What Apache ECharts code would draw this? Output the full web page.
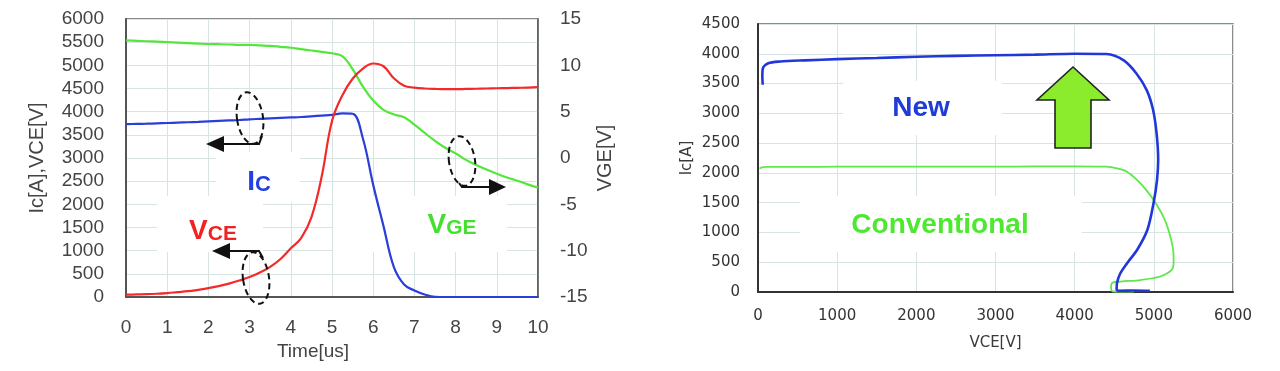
<!DOCTYPE html>
<html>
<head>
<meta charset="utf-8">
<script src="https://cdn.jsdelivr.net/npm/echarts@6/dist/echarts.min.js"></script>
<style>
html,body{margin:0;padding:0;background:#fff;}
#c{width:1280px;height:371px;}
</style>
</head>
<body>
<div id="c"></div>
<script>
// ---------- Left chart data (turn-off waveforms) ----------
const timeUs = [0,0.25,0.5,0.75,1,1.25,1.5,1.75,2,2.25,2.5,2.75,3,3.25,3.5,3.75,4,4.25,4.5,4.75,5,5.25,5.5,5.75,6,6.25,6.5,6.75,7,7.25,7.5,7.75,8,8.25,8.5,8.75,9,9.25,9.5,9.75,10];
const icA = [3730,3735,3740,3748,3755,3765,3772,3780,3790,3800,3810,3820,3835,3845,3855,3865,3875,3885,3900,3915,3930,3962,3955,3420,2420,1530,650,270,140,55,5,0,0,0,0,0,0,0,0,0,0];
const vceV = [50,55,60,70,85,105,125,155,190,235,290,355,430,530,650,820,1050,1270,1720,2600,3800,4350,4710,4930,5040,4980,4720,4560,4520,4500,4490,4485,4485,4490,4495,4500,4505,4510,4515,4520,4530];
const vgeV = [12.7,12.65,12.6,12.55,12.5,12.45,12.4,12.35,12.3,12.28,12.25,12.2,12.2,12.15,12.1,12.0,11.9,11.75,11.6,11.45,11.3,11.0,9.6,7.7,6.2,5.2,4.7,4.4,3.6,2.7,1.85,1.1,0.5,-0.2,-0.75,-1.25,-1.7,-2.1,-2.45,-2.85,-3.2];
const leftYTicks = [0,500,1000,1500,2000,2500,3000,3500,4000,4500,5000,5500,6000];
const rightYTicks = [-15,-10,-5,0,5,10,15];
const timeTicks = [0,1,2,3,4,5,6,7,8,9,10];

// ---------- Right chart data (Ic vs VCE locus) ----------
const newVce = [60,55,60,130,280,600,1000,1500,2000,2500,3000,3500,4000,4400,4620,4780,4910,4990,5035,5055,5040,5000,4920,4790,4660,4575,4535,4530,4560,4750,4950];
const newIc  = [3480,3600,3750,3840,3870,3890,3910,3930,3950,3965,3975,3985,4000,3995,3890,3670,3390,3060,2660,2220,1880,1520,1050,710,480,310,150,40,20,25,20];
const convVce = [20,40,100,500,1000,1500,2000,2500,3000,3500,4000,4400,4550,4660,4790,4900,5000,5120,5185,5245,5250,5225,5080,4830,4580,4470,4460,4480,4600,4750];
const convIc  = [2070,2090,2100,2100,2105,2105,2105,2105,2105,2108,2110,2105,2070,2020,1880,1720,1540,1265,1040,700,500,370,260,200,175,150,60,10,5,5];
const vceTicks = [0,1000,2000,3000,4000,5000,6000];
const icTicks = [0,500,1000,1500,2000,2500,3000,3500,4000,4500];

const pairs = (xs, ys) => xs.map((x, i) => [x, ys[i]]);
const plain = v => String(v);

const LF = 'Liberation Sans';
const RF = 'DejaVu Sans';
const gridLine = { show: true, lineStyle: { color: '#d8e3e3', width: 1 } };

const chart = echarts.init(document.getElementById('c'), null, { renderer: 'canvas' });

const option = {
  backgroundColor: '#ffffff',
  animation: false,
  grid: [
    { left: 126, top: 19, width: 412, height: 278, show: true, borderColor: '#666', borderWidth: 1.5, backgroundColor: 'transparent' },
    { left: 758, top: 24, width: 475, height: 268, show: true, borderColor: '#666', borderWidth: 1.5, backgroundColor: 'transparent' }
  ],
  xAxis: [
    {
      gridIndex: 0, type: 'value', min: timeTicks[0], max: timeTicks[timeTicks.length - 1], interval: 1,
      name: 'Time[us]', nameLocation: 'middle', nameGap: 41,
      nameTextStyle: { fontFamily: LF, fontSize: 19, color: '#444', padding: [0, 38, 0, 0] },
      axisLine: { show: true, lineStyle: { color: '#555', width: 2 } },
      axisTick: { show: false },
      axisLabel: { fontFamily: LF, fontSize: 19, color: '#444', margin: 21, formatter: plain },
      splitLine: gridLine
    },
    {
      gridIndex: 1, type: 'value', min: vceTicks[0], max: vceTicks[vceTicks.length - 1], interval: 1000,
      name: 'VCE[V]', nameLocation: 'middle', nameGap: 44,
      nameTextStyle: { fontFamily: RF, fontSize: 15, color: '#3a3a3a' },
      axisLine: { show: true, lineStyle: { color: '#333', width: 2 } },
      axisTick: { show: false },
      axisLabel: { fontFamily: RF, fontSize: 15, color: '#333', margin: 17, formatter: plain },
      splitLine: gridLine
    }
  ],
  yAxis: [
    {
      gridIndex: 0, type: 'value', min: leftYTicks[0], max: leftYTicks[leftYTicks.length - 1], interval: 500,
      name: 'Ic[A],VCE[V]', nameLocation: 'middle', nameGap: 79, nameRotate: 90,
      nameTextStyle: { fontFamily: LF, fontSize: 20, color: '#444' },
      axisLine: { show: true, lineStyle: { color: '#555', width: 2 } },
      axisTick: { show: false },
      axisLabel: { fontFamily: LF, fontSize: 19, color: '#444', margin: 22, formatter: plain },
      splitLine: gridLine
    },
    {
      gridIndex: 0, type: 'value', position: 'right', min: rightYTicks[0], max: rightYTicks[rightYTicks.length - 1], interval: 5,
      name: 'VGE[V]', nameLocation: 'middle', nameGap: 57, nameRotate: 90,
      nameTextStyle: { fontFamily: LF, fontSize: 20, color: '#444' },
      axisLine: { show: true, onZero: false, lineStyle: { color: '#555', width: 1.5 } },
      axisTick: { show: false },
      axisLabel: { fontFamily: LF, fontSize: 19, color: '#444', margin: 22, formatter: plain },
      splitLine: { show: false }
    },
    {
      gridIndex: 1, type: 'value', min: icTicks[0], max: icTicks[icTicks.length - 1], interval: 500,
      name: 'Ic[A]', nameLocation: 'middle', nameGap: 63, nameRotate: 90,
      nameTextStyle: { fontFamily: RF, fontSize: 15, color: '#3a3a3a' },
      axisLine: { show: true, lineStyle: { color: '#333', width: 2 } },
      axisTick: { show: false },
      axisLabel: { fontFamily: RF, fontSize: 15, color: '#333', margin: 18, formatter: plain },
      splitLine: gridLine
    }
  ],
  series: [
    { name: 'VGE', type: 'line', xAxisIndex: 0, yAxisIndex: 1, data: pairs(timeUs, vgeV), showSymbol: false, smooth: 0.4, lineStyle: { color: '#55e63c', width: 2.2 }, z: 3 },
    { name: 'Ic', type: 'line', xAxisIndex: 0, yAxisIndex: 0, data: pairs(timeUs, icA), showSymbol: false, smooth: 0.4, lineStyle: { color: '#2a3ed8', width: 2.2 }, z: 3 },
    { name: 'VCE', type: 'line', xAxisIndex: 0, yAxisIndex: 0, data: pairs(timeUs, vceV), showSymbol: false, smooth: 0.4, lineStyle: { color: '#f42a2a', width: 2.2 }, z: 3 },
    { name: 'Conventional', type: 'line', xAxisIndex: 1, yAxisIndex: 2, data: pairs(convVce, convIc), showSymbol: false, smooth: 0.3, lineStyle: { color: '#5ee84c', width: 1.8 }, z: 3 },
    { name: 'New', type: 'line', xAxisIndex: 1, yAxisIndex: 2, data: pairs(newVce, newIc), showSymbol: false, smooth: 0.3, lineStyle: { color: '#2237d8', width: 2.6 }, z: 3 }
  ]
};

// ---------- Annotations (text boxes, dashed ellipses, arrows) ----------
const dash = { stroke: '#111', fill: null, lineWidth: 2, lineDash: [6, 4] };
const solid = { stroke: '#111', fill: null, lineWidth: 2 };
const white = { fill: '#ffffff' };
const bold = (size, color) => ({ fontFamily: 'Liberation Sans', fontWeight: 'bold', fontSize: size, fill: color, verticalAlign: 'bottom', lineHeight: 30 });

option.graphic = [
  { type: 'rect', z: 1, shape: { x: 216, y: 152, width: 84, height: 50 }, style: white, silent: true },
  { type: 'rect', z: 1, shape: { x: 157, y: 196, width: 106, height: 56 }, style: white, silent: true },
  { type: 'rect', z: 1, shape: { x: 333, y: 196, width: 174, height: 56 }, style: white, silent: true },
  { type: 'rect', z: 1, shape: { x: 843, y: 81, width: 159, height: 54 }, style: white, silent: true },
  { type: 'rect', z: 1, shape: { x: 800, y: 196, width: 282, height: 56 }, style: white, silent: true },

  { type: 'text', z: 5, style: { x: 259, y: 181, align: 'center', verticalAlign: 'middle', text: '{a|I}{b|C}',
      rich: { a: bold(28, '#2340e0'), b: bold(22, '#2340e0') } } },
  { type: 'text', z: 5, style: { x: 213, y: 230, align: 'center', verticalAlign: 'middle', text: '{a|V}{b|CE}',
      rich: { a: bold(28, '#f02222'), b: bold(21, '#f02222') } } },
  { type: 'text', z: 5, style: { x: 452, y: 224, align: 'center', verticalAlign: 'middle', text: '{a|V}{b|GE}',
      rich: { a: bold(28, '#44e030'), b: bold(21, '#44e030') } } },

  { type: 'text', z: 5, style: { x: 921, y: 108, align: 'center', verticalAlign: 'middle', text: 'New',
      fontFamily: 'Liberation Sans', fontWeight: 'bold', fontSize: 28, fill: '#1f3bd8' } },
  { type: 'text', z: 5, style: { x: 940, y: 225, align: 'center', verticalAlign: 'middle', text: 'Conventional',
      fontFamily: 'Liberation Sans', fontWeight: 'bold', fontSize: 28, fill: '#4ee832' } },

  { type: 'ellipse', z: 6, x: 250, y: 118, rotation: 0.15, shape: { cx: 0, cy: 0, rx: 13, ry: 26 }, style: dash },
  { type: 'ellipse', z: 6, x: 256, y: 278, rotation: 0.15, shape: { cx: 0, cy: 0, rx: 13, ry: 26 }, style: dash },
  { type: 'ellipse', z: 6, x: 462, y: 161, rotation: 0.15, shape: { cx: 0, cy: 0, rx: 13, ry: 25 }, style: dash },

  { type: 'polyline', z: 6, shape: { points: [[262, 136], [259, 144], [222, 144]] }, style: solid },
  { type: 'polygon', z: 6, shape: { points: [[206, 144], [224, 136], [224, 152]] }, style: { fill: '#111' } },
  { type: 'polyline', z: 6, shape: { points: [[263, 258], [259, 251], [228, 251]] }, style: solid },
  { type: 'polygon', z: 6, shape: { points: [[212, 251], [230, 243], [230, 259]] }, style: { fill: '#111' } },
  { type: 'polyline', z: 6, shape: { points: [[459, 183], [462, 187], [491, 187]] }, style: solid },
  { type: 'polygon', z: 6, shape: { points: [[506, 187], [489, 179], [489, 195]] }, style: { fill: '#111' } },

  { type: 'polygon', z: 6, shape: { points: [[1073, 67], [1109, 100], [1091, 100], [1091, 148], [1055, 148], [1055, 100], [1037, 100]] },
    style: { fill: '#8aec2c', stroke: '#222', lineWidth: 1.6 } }
];

chart.setOption(option);
</script>
</body>
</html>
